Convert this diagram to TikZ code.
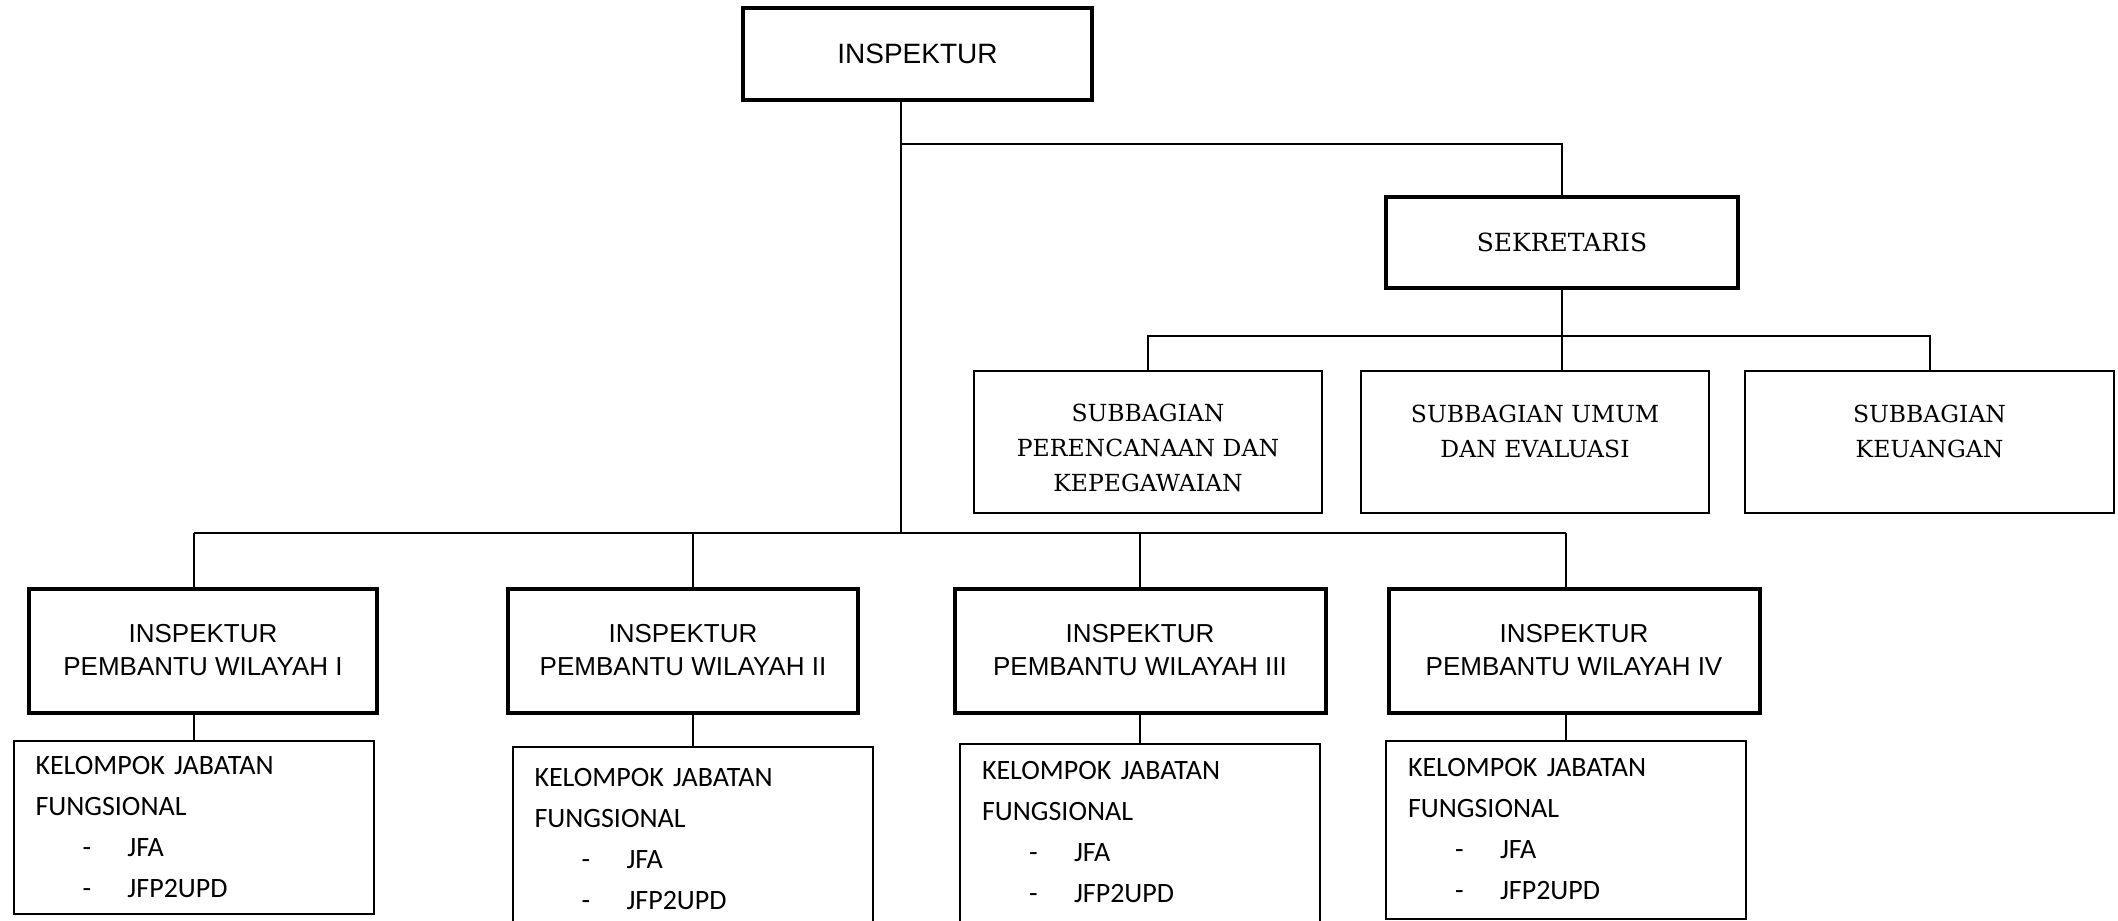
\documentclass[tikz,border=0pt]{standalone}
\usepackage{fontspec}
\usepackage{tikz}
\usetikzlibrary{positioning}
\newfontfamily\arialfont{Liberation Sans}
\newfontfamily\schoolfont{DejaVu Serif}
\newfontfamily\calibrifont{Carlito}
\newcommand{\jabitem}[1]{\hspace*{23.5pt}\makebox[22.5pt][l]{-}#1}
\newcommand{\toppad}{\rule{0pt}{15.5pt}}

\begin{document}
\begin{tikzpicture}
[auto,
% STYLES
% The head style is used for the boxes with a heavy frame
head/.style={rectangle, draw, line width=2pt, inner sep=4pt, align=center},
% The wilayah style is used for the regional inspectors
wilayah/.style={head, minimum width=175pt, minimum height=62pt, font=\arialfont\fontsize{13}{16.5}\selectfont},
% The unit style is used for the sub-units under the secretary
unit/.style={rectangle, draw, line width=1pt, minimum width=174pt, minimum height=71pt, align=center, font=\schoolfont\fontsize{11.75}{17.5}\selectfont},
% The group style is used for the functional groups
group/.style={rectangle, draw, line width=1pt, inner xsep=11pt, text width=158pt, minimum height=89pt, align=left, font=\calibrifont\fontsize{14}{20.5}\selectfont},
% The link style is used for the lines between boxes
link/.style={line width=1pt}]

\useasboundingbox (0,0) rectangle (1059pt,-460pt);

% Draw heads
\node [head, minimum width=174.5pt, minimum height=46pt, font=\arialfont\fontsize{14}{16}\selectfont] (inspektur) at (458.75pt,-27pt) {INSPEKTUR};
\node [head, minimum width=176pt, minimum height=45.5pt, font=\schoolfont\fontsize{12.5}{15}\selectfont] (sekretaris) at (781pt,-121.25pt) {SEKRETARIS};

% Draw sub-units
\node [unit] (sub_plan) at (574pt,-220.75pt) {\toppad SUBBAGIAN\\PERENCANAAN DAN\\KEPEGAWAIAN};
\node [unit, right=18.5pt of sub_plan] (sub_umum) {\toppad SUBBAGIAN UMUM\\DAN EVALUASI\\\mbox{}};
\node [unit, minimum width=184.5pt, right=17pt of sub_umum] (sub_uang) {\toppad SUBBAGIAN\\KEUANGAN\\\mbox{}};

% Draw regional inspectors
\node [wilayah, minimum width=174pt] (wil1) at (101.5pt,-325.25pt) {INSPEKTUR\\PEMBANTU WILAYAH I};
\node [wilayah, right=63.5pt of wil1] (wil2) {INSPEKTUR\\PEMBANTU WILAYAH II};
\node [wilayah, minimum width=185.5pt, right=46.25pt of wil2] (wil3) {INSPEKTUR\\PEMBANTU WILAYAH III};
\node [wilayah, minimum width=185.5pt, right=29.5pt of wil3] (wil4) {INSPEKTUR\\PEMBANTU WILAYAH IV};

%%%%%%%%%%%%%%%
% Functional groups

% wil1
\node [group, minimum height=86.5pt, below=12.5pt of wil1, xshift=-4.75pt] (grp1) {KELOMPOK JABATAN\\FUNGSIONAL\\\jabitem{JFA}\\\jabitem{JFP2UPD}};

% wil2
\node [group, minimum height=93pt, below=15.5pt of wil2, xshift=4.75pt] (grp2) {KELOMPOK JABATAN\\FUNGSIONAL\\\jabitem{JFA}\\\jabitem{JFP2UPD}};

% wil3
\node [group, below=14pt of wil3] (grp3) {KELOMPOK JABATAN\\FUNGSIONAL\\\jabitem{JFA}\\\jabitem{JFP2UPD}};

% wil4
\node [group, below=12.5pt of wil4, xshift=-4pt] (grp4) {KELOMPOK JABATAN\\FUNGSIONAL\\\jabitem{JFA}\\\jabitem{JFP2UPD}};

%%%%%%%%%%%%%%%

% Bus levels
\coordinate (bus_sek) at (0,-72pt);
\coordinate (bus_sub) at (0,-168pt);
\coordinate (bus_wil) at (0,-266.5pt);
\coordinate (stem) at ([xshift=-8.25pt]inspektur.south);

% Draw the links between boxes
\draw[link] (stem) -- (stem |- bus_wil);
\draw[link] (stem |- bus_sek) -| (sekretaris.north);
\draw[link] (sekretaris.south) -- (sekretaris.south |- sub_umum.north);
\draw[link] (sub_plan.north) |- (sekretaris.south |- bus_sub) -| (sub_uang.north);
\draw[link] (grp1.north |- bus_wil) -- (grp4.north |- bus_wil);
\path[link]
(grp1.north |- bus_wil) edge (wil1.north -| grp1.north)
(grp2.north |- bus_wil) edge (wil2.north -| grp2.north)
(grp3.north |- bus_wil) edge (wil3.north -| grp3.north)
(grp4.north |- bus_wil) edge (wil4.north -| grp4.north)
(wil1.south -| grp1.north) edge (grp1.north)
(wil2.south -| grp2.north) edge (grp2.north)
(wil3.south -| grp3.north) edge (grp3.north)
(wil4.south -| grp4.north) edge (grp4.north);

\end{tikzpicture}
\end{document}
